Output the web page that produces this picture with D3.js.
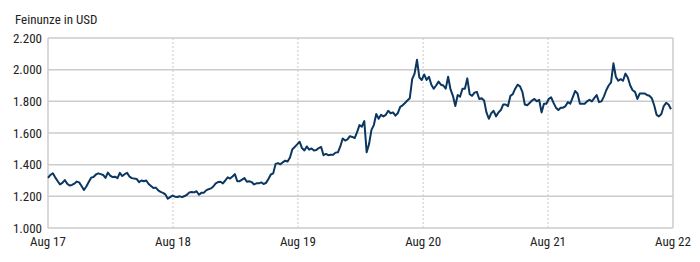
<!DOCTYPE html>
<html>
<head>
<meta charset="utf-8">
<script src="https://cdn.jsdelivr.net/npm/d3@7"></script>
<style>
  body { margin: 0; background: #fff; }
  text { font-family: "Roboto Condensed", "Liberation Sans Narrow", "DejaVu Sans Condensed", sans-serif; fill: #222; }
</style>
</head>
<body>
<div id="main"></div>
<script>
// chart data
var title = "Feinunze in USD";
var startDate = "2017-08-28";   // first weekly observation
var tickDates = ["2017-08-28", "2018-08-28", "2019-08-28", "2020-08-28", "2021-08-28", "2022-08-28"];
var tickLabels = ["Aug 17", "Aug 18", "Aug 19", "Aug 20", "Aug 21", "Aug 22"];
var yTicks = [1000, 1200, 1400, 1600, 1800, 2000, 2200];

var price2017 = [1316, 1335, 1346, 1320, 1297, 1275, 1285, 1303, 1280, 1268, 1272, 1280, 1293, 1288, 1265, 1240, 1262, 1290];
var price2018 = [1318, 1322, 1338, 1345, 1340, 1335, 1316, 1350, 1330, 1322, 1324, 1315, 1348, 1328, 1340, 1348, 1325, 1315, 1312, 1310,
                 1290, 1300, 1295, 1300, 1278, 1265, 1252, 1255, 1238, 1228, 1222, 1212, 1185, 1195, 1205, 1198, 1196, 1200, 1195, 1202,
                 1210, 1225, 1228, 1225, 1232, 1210, 1222, 1222, 1238, 1245, 1250, 1262, 1282];
var price2019 = [1290, 1292, 1282, 1300, 1320, 1312, 1325, 1340, 1295, 1296, 1305, 1315, 1292, 1295, 1290, 1275, 1282, 1282, 1288, 1278,
                 1285, 1310, 1338, 1345, 1405, 1410, 1402, 1415, 1425, 1420, 1445, 1498, 1512, 1528, 1545, 1505, 1490, 1515, 1495, 1502,
                 1490, 1492, 1505, 1512, 1460, 1468, 1460, 1462, 1462, 1476, 1478, 1515];
var price2020 = [1565, 1552, 1560, 1580, 1575, 1568, 1605, 1650, 1640, 1675, 1478, 1530, 1620, 1650, 1720, 1690, 1715, 1705, 1715, 1740,
                 1725, 1730, 1710, 1725, 1765, 1775, 1790, 1805, 1820, 1940, 1975, 2062, 1950, 1935, 1970, 1935, 1955, 1905, 1880, 1900,
                 1925, 1905, 1900, 1880, 1955, 1875, 1835, 1770, 1840, 1830, 1880, 1880];
var price2021 = [1945, 1845, 1835, 1855, 1860, 1815, 1820, 1805, 1730, 1690, 1725, 1740, 1705, 1730, 1745, 1780, 1780, 1770, 1835, 1845,
                 1880, 1905, 1895, 1860, 1780, 1775, 1790, 1805, 1815, 1800, 1810, 1730, 1785, 1785, 1815, 1825, 1790, 1760, 1745, 1760,
                 1760, 1770, 1795, 1785, 1825, 1865, 1850, 1785, 1785, 1785, 1800, 1810];
var price2022 = [1800, 1820, 1840, 1795, 1800, 1830, 1870, 1900, 1920, 2040, 1955, 1930, 1940, 1930, 1975, 1950, 1900, 1870, 1860, 1815,
                 1850, 1850, 1850, 1840, 1835, 1820, 1775, 1715, 1705, 1720, 1770, 1790, 1780, 1750];

var prices = [].concat(price2017, price2018, price2019, price2020, price2021, price2022);

// layout
var width = 700, height = 262;
var margin = {top: 38, right: 27, bottom: 34, left: 48};
var lineColor = "#0b3660";
var gridColor = "#cccccc";

var parse = d3.timeParse("%Y-%m-%d");
var t0 = parse(startDate);
var data = prices.map(function (v, i) {
    return {date: d3.timeDay.offset(t0, 7 * i), value: v};
});

var svg = d3.select("#main").append("svg")
    .attr("width", width)
    .attr("height", height);

var x = d3.scaleTime()
    .domain([parse(tickDates[0]), parse(tickDates[tickDates.length - 1])])
    .range([margin.left, width - margin.right]);

var y = d3.scaleLinear()
    .domain([yTicks[0], yTicks[yTicks.length - 1]])
    .range([height - margin.bottom, margin.top]);

// horizontal grid
svg.append("g")
    .selectAll("line")
    .data(yTicks)
    .join("line")
    .attr("x1", margin.left)
    .attr("x2", width - margin.right)
    .attr("y1", function (d) { return y(d); })
    .attr("y2", function (d) { return y(d); })
    .attr("stroke", gridColor)
    .attr("stroke-width", 1.5);

// vertical dotted grid at inner years
svg.append("g")
    .selectAll("line")
    .data(tickDates.slice(1, -1))
    .join("line")
    .attr("x1", function (d) { return x(parse(d)); })
    .attr("x2", function (d) { return x(parse(d)); })
    .attr("y1", margin.top)
    .attr("y2", height - margin.bottom)
    .attr("stroke", "#c8c8c8")
    .attr("stroke-width", 1)
    .attr("stroke-dasharray", "2,2");

// frame left / right
svg.append("line")
    .attr("x1", margin.left).attr("x2", margin.left)
    .attr("y1", margin.top).attr("y2", height - margin.bottom)
    .attr("stroke", gridColor).attr("stroke-width", 1.5);
svg.append("line")
    .attr("x1", width - margin.right).attr("x2", width - margin.right)
    .attr("y1", margin.top).attr("y2", height - margin.bottom)
    .attr("stroke", gridColor).attr("stroke-width", 1.5);

// y labels
var fmt = function (d) { return d3.format(",")(d).replace(",", "."); };
svg.append("g")
    .selectAll("text")
    .data(yTicks)
    .join("text")
    .attr("x", margin.left - 6)
    .attr("y", function (d) { return y(d) + 4.5; })
    .attr("text-anchor", "end")
    .attr("font-size", "13px")
    .text(fmt);

// x labels
svg.append("g")
    .selectAll("text")
    .data(tickDates)
    .join("text")
    .attr("x", function (d) { return x(parse(d)); })
    .attr("y", height - margin.bottom + 17.5)
    .attr("text-anchor", "middle")
    .attr("font-size", "13px")
    .text(function (d, i) { return tickLabels[i]; });

// title
svg.append("text")
    .attr("x", 15)
    .attr("y", 24)
    .attr("font-size", "13px")
    .text(title);

// price line
var line = d3.line()
    .x(function (d) { return x(d.date); })
    .y(function (d) { return y(d.value); });

svg.append("path")
    .datum(data)
    .attr("fill", "none")
    .attr("stroke", lineColor)
    .attr("stroke-width", 2)
    .attr("stroke-linejoin", "round")
    .attr("d", line);
</script>
</body>
</html>
